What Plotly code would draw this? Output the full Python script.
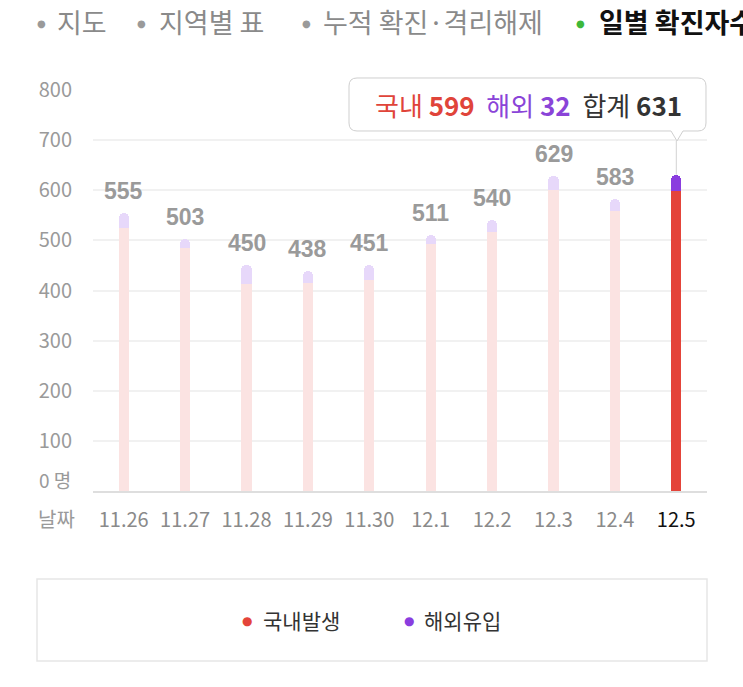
import plotly.graph_objects as go

dates = ["11.26", "11.27", "11.28", "11.29", "11.30", "12.1", "12.2", "12.3", "12.4", "12.5"]
domestic = [525, 485, 413, 414, 420, 493, 516, 600, 559, 599]
overseas = [30, 18, 37, 24, 31, 18, 24, 29, 24, 32]
totals = [555, 503, 450, 438, 451, 511, 540, 629, 583, 631]
y_ticks = [100, 200, 300, 400, 500, 600, 700, 800]
tabs = ["지도", "지역별 표", "누적 확진·격리해제", "일별 확진자수"]
legend_names = ["국내발생", "해외유입"]

FONT = "Noto Sans CJK KR"
RED, PURPLE = "#E4443A", "#8A3DDF"
PINK, LAV = "#FBE3E2", "#E7D8FA"
sel = len(dates) - 1

W_FIG, H_FIG = 743, 687
L, R, T, B = 93, 707, 90, 491
PW, PH = R - L, B - T


def px(x):
    return (x - L) / PW


def py(y):
    return (B - y) / PH


idx = list(range(len(dates)))
dom_colors = [RED if i == sel else PINK for i in idx]
ovs_colors = [PURPLE if i == sel else LAV for i in idx]

fig = go.Figure()
fig.add_trace(go.Bar(x=idx, y=domestic, name=legend_names[0], width=0.165,
                     marker=dict(color=dom_colors, line=dict(width=0)),
                     showlegend=False, hoverinfo="skip"))
fig.add_trace(go.Bar(x=idx, y=overseas, name=legend_names[1], width=0.165,
                     marker=dict(color=ovs_colors, line=dict(width=0), cornerradius=5),
                     showlegend=False, hoverinfo="skip"))

annotations = []
# value labels
for i, t in zip(idx, totals):
    if i == sel:
        continue
    annotations.append(dict(x=i, y=t, xref="x", yref="y", text=f"<b>{t}</b>",
                            showarrow=False, yshift=22, yanchor="middle",
                            font=dict(family="Liberation Sans", size=23, color="#9A9A9A")))

# tooltip text
nb = "\u00a0"
tip = (f"<span style='color:#E0443A'>국내 <b>{domestic[sel]}</b></span>{nb}{nb}"
       f"<span style='color:#8A44D8'>해외 <b>{overseas[sel]}</b></span>{nb}{nb}"
       f"<span style='color:#333333'>합계 <b>{totals[sel]}</b></span>")
annotations.append(dict(x=px(528), y=py(104), xref="paper", yref="paper", text=tip,
                        showarrow=False, xanchor="center", yanchor="middle",
                        font=dict(family=FONT, size=26)))

# top tabs
tab_dots = [41, 141, 306, 580]
tab_text_x = [55, 157, 321, 597]
for i, (name, dx, tx) in enumerate(zip(tabs, tab_dots, tab_text_x)):
    active = i == len(tabs) - 1
    annotations.append(dict(x=px(dx), y=py(23), xref="paper", yref="paper", text="●",
                            showarrow=False, xanchor="center", yanchor="middle",
                            font=dict(family="DejaVu Sans", size=10,
                                      color="#3DB83A" if active else "#9A9A9A")))
    annotations.append(dict(x=px(tx), y=py(22), xref="paper", yref="paper",
                            text=f"<b>{name}</b>" if active else name,
                            showarrow=False, xanchor="left", yanchor="middle",
                            font=dict(family=FONT, size=27,
                                      color="#111111" if active else "#8A8A8A")))

# axis extra labels
annotations.append(dict(x=px(37), y=py(479), xref="paper", yref="paper", text="0 명",
                        showarrow=False, xanchor="left", yanchor="middle",
                        font=dict(family=FONT, size=19, color="#9A9A9A")))
annotations.append(dict(x=px(36), y=py(518), xref="paper", yref="paper", text="날짜",
                        showarrow=False, xanchor="left", yanchor="middle",
                        font=dict(family=FONT, size=20, color="#9A9A9A")))

# legend
leg_dots = [247, 409]
leg_text_x = [261, 422]
leg_colors = [RED, PURPLE]
for name, dx, tx, c in zip(legend_names, leg_dots, leg_text_x, leg_colors):
    annotations.append(dict(x=px(dx), y=py(621), xref="paper", yref="paper", text="●",
                            showarrow=False, xanchor="center", yanchor="middle",
                            font=dict(family="DejaVu Sans", size=12, color=c)))
    annotations.append(dict(x=px(tx), y=py(620), xref="paper", yref="paper", text=name,
                            showarrow=False, xanchor="left", yanchor="middle",
                            font=dict(family=FONT, size=21, color="#333333")))

# tooltip box path
x1, x2, y1, y2, r = 349, 706, 78, 131, 8
pts = [("M", x1 + r, y1), ("L", x2 - r, y1), ("Q", x2, y1, x2, y1 + r), ("L", x2, y2 - r),
       ("Q", x2, y2, x2 - r, y2), ("L", 683, y2), ("L", 677, 141), ("L", 671, y2),
       ("L", x1 + r, y2), ("Q", x1, y2, x1, y2 - r), ("L", x1, y1 + r),
       ("Q", x1, y1, x1 + r, y1)]
path = ""
for p in pts:
    cmd = p[0]
    coords = p[1:]
    seg = []
    for k in range(0, len(coords), 2):
        seg.append(f"{px(coords[k]):.5f},{py(coords[k+1]):.5f}")
    path += cmd + " ".join(seg) + " "
path += "Z"

shapes = [
    dict(type="line", xref="x", yref="y", x0=sel, x1=sel,
         y0=totals[sel], y1=(B - 141) / PH * 800, layer="below",
         line=dict(color="#D2D2D2", width=1)),
    dict(type="path", xref="paper", yref="paper", path=path, layer="above",
         fillcolor="white", line=dict(color="#CFCFCF", width=1)),
    dict(type="rect", xref="paper", yref="paper", x0=px(37), x1=px(707), y0=py(579), y1=py(661),
         line=dict(color="#E6E6E6", width=1.5), fillcolor="rgba(0,0,0,0)"),
]

ticktext = [f"<span style='color:#111111'>{d}</span>" if i == sel else d for i, d in zip(idx, dates)]

fig.update_layout(
    width=W_FIG, height=H_FIG,
    margin=dict(l=L, r=W_FIG - R, t=T, b=H_FIG - B, pad=0),
    paper_bgcolor="white", plot_bgcolor="white",
    barmode="stack", bargap=0,
    font=dict(family=FONT),
    annotations=annotations, shapes=shapes,
    xaxis=dict(range=[-0.5, len(dates) - 0.5], tickvals=idx, ticktext=ticktext, showgrid=False,
               showline=True, linecolor="#DEDEDE", linewidth=1.5, ticks="", tickangle=0,
               ticklabelstandoff=10, zeroline=False,
               tickfont=dict(family=FONT, size=20, color="#8A8A8A"), fixedrange=True),
    yaxis=dict(range=[0, 800], tickvals=y_ticks, ticktext=[str(v) for v in y_ticks],
               showgrid=True, gridcolor="#F1F1F1", gridwidth=1.5, zeroline=False,
               showline=False, ticks="", ticklabelstandoff=20,
               tickfont=dict(family=FONT, size=20, color="#9A9A9A"), fixedrange=True),
)

fig.write_html("out.html", config={"displayModeBar": False})
